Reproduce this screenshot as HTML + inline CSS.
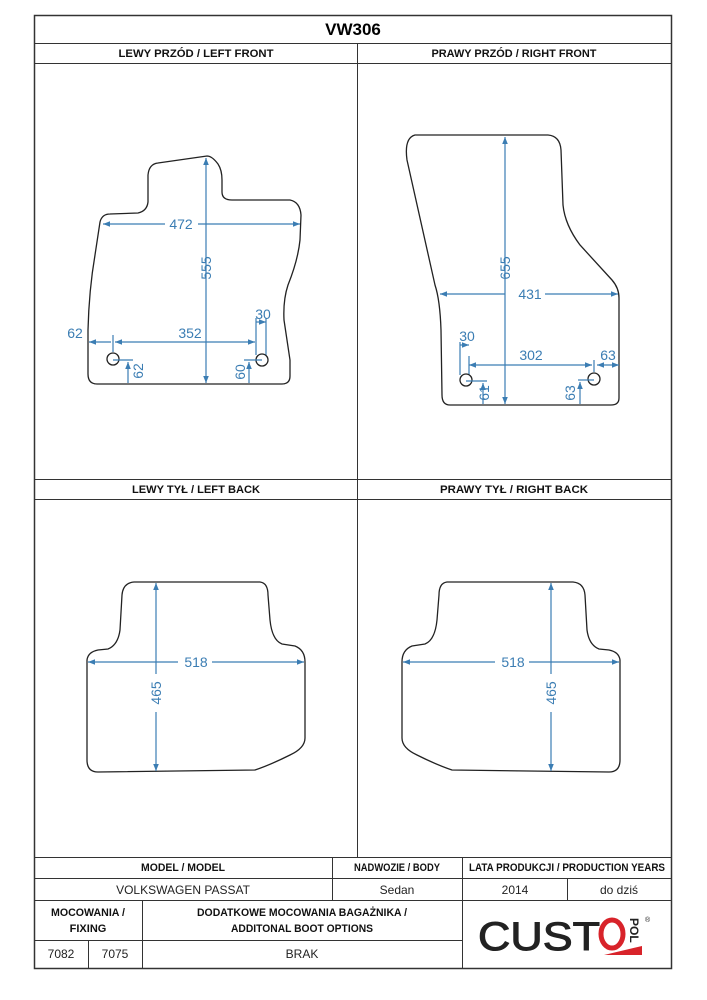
<!DOCTYPE html>
<html><head><meta charset="utf-8"><style>
html,body{margin:0;padding:0;background:#fff;width:707px;height:1000px;overflow:hidden}
svg{display:block}
.h{font-family:"Liberation Sans",sans-serif;font-weight:bold;font-size:11px;fill:#111}
.t{font-family:"Liberation Sans",sans-serif;font-size:12px;fill:#222}
.d{font-family:"Liberation Sans",sans-serif;font-size:14px;fill:#3b7db3}
.m{fill:none;stroke:#222;stroke-width:1.3}
.b{stroke:#3b7db3;stroke-width:1.2;fill:none}
</style></head><body>
<svg width="707" height="1000" viewBox="0 0 707 1000">
<defs>
<marker id="a" viewBox="0 0 10 10" refX="10" refY="5" markerWidth="7" markerHeight="7" orient="auto-start-reverse" markerUnits="userSpaceOnUse"><path d="M0,1 L10,5 L0,9z" fill="#3b7db3"/></marker>
</defs>
<g stroke="#333" stroke-width="1" fill="none">
<rect x="34.5" y="15.5" width="637" height="953" stroke-width="1.5"/>
<line x1="34" y1="43.5" x2="671" y2="43.5"/>
<line x1="34" y1="63.5" x2="671" y2="63.5"/>
<line x1="34" y1="479.5" x2="671" y2="479.5"/>
<line x1="34" y1="499.5" x2="671" y2="499.5"/>
<line x1="357.5" y1="43" x2="357.5" y2="857"/>
<line x1="34" y1="857.5" x2="671" y2="857.5"/>
<line x1="34" y1="878.5" x2="671" y2="878.5"/>
<line x1="34" y1="900.5" x2="671" y2="900.5"/>
<line x1="34" y1="940.5" x2="462" y2="940.5"/>
<line x1="332.5" y1="857" x2="332.5" y2="900"/>
<line x1="462.5" y1="857" x2="462.5" y2="968"/>
<line x1="567.5" y1="878" x2="567.5" y2="900"/>
<line x1="142.5" y1="900" x2="142.5" y2="968"/>
<line x1="88.5" y1="940" x2="88.5" y2="968"/>
</g>
<text x="353" y="35" text-anchor="middle" style="font-family:'Liberation Sans',sans-serif;font-weight:bold;font-size:17px">VW306</text>
<text class="h" x="196" y="57" text-anchor="middle" textLength="155" lengthAdjust="spacingAndGlyphs">LEWY PRZÓD / LEFT FRONT</text>
<text class="h" x="514" y="57" text-anchor="middle" textLength="165" lengthAdjust="spacingAndGlyphs">PRAWY PRZÓD / RIGHT FRONT</text>
<text class="h" x="196" y="493" text-anchor="middle" textLength="128" lengthAdjust="spacingAndGlyphs">LEWY TYŁ / LEFT BACK</text>
<text class="h" x="514" y="493" text-anchor="middle" textLength="148" lengthAdjust="spacingAndGlyphs">PRAWY TYŁ / RIGHT BACK</text>
<text class="h" x="183" y="871" text-anchor="middle" textLength="84" lengthAdjust="spacingAndGlyphs">MODEL / MODEL</text>
<text class="h" x="397" y="871" text-anchor="middle" textLength="86" lengthAdjust="spacingAndGlyphs">NADWOZIE / BODY</text>
<text class="h" x="567" y="871" text-anchor="middle" textLength="196" lengthAdjust="spacingAndGlyphs">LATA PRODUKCJI / PRODUCTION YEARS</text>
<text class="t" x="183" y="894" text-anchor="middle">VOLKSWAGEN PASSAT</text>
<text class="t" x="397" y="894" text-anchor="middle">Sedan</text>
<text class="t" x="515" y="894" text-anchor="middle">2014</text>
<text class="t" x="619" y="894" text-anchor="middle">do dziś</text>
<text class="h" x="88" y="916" text-anchor="middle" textLength="74" lengthAdjust="spacingAndGlyphs">MOCOWANIA /</text>
<text class="h" x="88" y="932" text-anchor="middle">FIXING</text>
<text class="h" x="302" y="916" text-anchor="middle" textLength="210" lengthAdjust="spacingAndGlyphs">DODATKOWE MOCOWANIA BAGAŻNIKA /</text>
<text class="h" x="302" y="932" text-anchor="middle" textLength="142" lengthAdjust="spacingAndGlyphs">ADDITONAL BOOT OPTIONS</text>
<text class="t" x="61" y="958" text-anchor="middle">7082</text>
<text class="t" x="115" y="958" text-anchor="middle">7075</text>
<text class="t" x="302" y="958" text-anchor="middle">BRAK</text>
<!-- logo -->
<text x="478" y="950" textLength="122" lengthAdjust="spacingAndGlyphs" style="font-family:'Liberation Sans',sans-serif;font-size:40px;fill:#222;stroke:#222;stroke-width:1">CUST</text>
<ellipse cx="612" cy="934" rx="11" ry="14" fill="none" stroke="#d8232a" stroke-width="5"/>
<path d="M604 955 L642 946 L642 955z" fill="#d8232a"/>
<text x="630" y="918" transform="rotate(90 630 918)" style="font-family:'Liberation Sans',sans-serif;font-weight:bold;font-size:12px;fill:#222">POL</text>
<text x="645" y="922" style="font-family:'Liberation Sans',sans-serif;font-size:7px;fill:#222">®</text>

<!-- left front -->
<path class="m" d="M207,156 Q212,156 218,164 Q222,170 222,180 L222,192 Q222,200 232,200 L290,200 Q300,202 301,215 L300,240 Q298,260 288,285 Q283,300 284,320 L290,360 L290,376 Q290,384 282,384 L97,384 Q88,384 88,374 L88,330 Q89,290 95,255 L100,222 Q102,214 110,214 L138,213 Q147,211 148,202 L148,175 Q149,164 158,163 Z"/>
<line class="b" x1="103" y1="224" x2="165" y2="224" marker-start="url(#a)"/>
<line class="b" x1="198" y1="224" x2="300" y2="224" marker-end="url(#a)"/>
<text class="d" x="181" y="229" text-anchor="middle">472</text>
<line class="b" x1="206" y1="158" x2="206" y2="383" marker-start="url(#a)" marker-end="url(#a)"/>
<text class="d" transform="translate(211,268) rotate(-90)" text-anchor="middle">555</text>
<line class="b" x1="89" y1="342" x2="111" y2="342" marker-start="url(#a)"/>
<line class="b" x1="115" y1="342" x2="255" y2="342" marker-start="url(#a)" marker-end="url(#a)"/>
<line class="b" x1="113" y1="335" x2="113" y2="352"/>
<line class="b" x1="256" y1="318" x2="256" y2="355"/>
<line class="b" x1="266" y1="318" x2="266" y2="355"/>
<line class="b" x1="256" y1="322" x2="266" y2="322" marker-end="url(#a)"/>
<text class="d" x="75" y="338" text-anchor="middle">62</text>
<text class="d" x="190" y="338" text-anchor="middle">352</text>
<text class="d" x="263" y="319" text-anchor="middle">30</text>
<circle cx="113" cy="359" r="6" class="m"/>
<circle cx="262" cy="360" r="6" class="m"/>
<line class="b" x1="113" y1="360" x2="133" y2="360"/>
<line class="b" x1="128" y1="362" x2="128" y2="383" marker-start="url(#a)"/>
<text class="d" transform="translate(143,371) rotate(-90)" text-anchor="middle">62</text>
<line class="b" x1="244" y1="360" x2="262" y2="360"/>
<line class="b" x1="249" y1="362" x2="249" y2="383" marker-start="url(#a)"/>
<text class="d" transform="translate(245,372) rotate(-90)" text-anchor="middle">60</text>

<!-- right front -->
<path class="m" d="M415,135 L548,135 Q560,136 561,150 L563,205 Q565,225 580,245 L612,280 Q619,288 619,298 L619,398 Q619,405 611,405 L450,405 Q442,405 442,395 L441,330 Q440,300 435,285 L407,160 Q404,138 415,135 Z"/>
<line class="b" x1="505" y1="137" x2="505" y2="404" marker-start="url(#a)" marker-end="url(#a)"/>
<text class="d" transform="translate(510,268) rotate(-90)" text-anchor="middle">655</text>
<line class="b" x1="440" y1="294" x2="505" y2="294" marker-start="url(#a)"/>
<line class="b" x1="545" y1="294" x2="618" y2="294" marker-end="url(#a)"/>
<text class="d" x="530" y="299" text-anchor="middle">431</text>
<line class="b" x1="460" y1="342" x2="460" y2="375"/>
<line class="b" x1="469" y1="356" x2="469" y2="375"/>
<line class="b" x1="460" y1="345" x2="469" y2="345" marker-end="url(#a)"/>
<text class="d" x="467" y="341" text-anchor="middle">30</text>
<line class="b" x1="469" y1="365" x2="592" y2="365" marker-start="url(#a)" marker-end="url(#a)"/>
<line class="b" x1="594" y1="360" x2="594" y2="372"/>
<line class="b" x1="597" y1="365" x2="619" y2="365" marker-start="url(#a)" marker-end="url(#a)"/>
<text class="d" x="531" y="360" text-anchor="middle">302</text>
<text class="d" x="608" y="360" text-anchor="middle">63</text>
<circle cx="466" cy="380" r="6" class="m"/>
<circle cx="594" cy="379" r="6" class="m"/>
<line class="b" x1="466" y1="381" x2="487" y2="381"/>
<line class="b" x1="483" y1="383" x2="483" y2="404" marker-start="url(#a)"/>
<text class="d" transform="translate(489,393) rotate(-90)" text-anchor="middle">61</text>
<line class="b" x1="578" y1="380" x2="594" y2="380"/>
<line class="b" x1="580" y1="382" x2="580" y2="404" marker-start="url(#a)"/>
<text class="d" transform="translate(575,393) rotate(-90)" text-anchor="middle">63</text>

<!-- left back -->
<g id="lb">
<path class="m" d="M134,582 L260,582 Q268,583 268,595 L270,620 Q272,640 282,644 L295,646 Q305,650 305,662 L305,738 Q305,748 290,755 Q270,765 255,770 L98,772 Q87,772 87,760 L87,660 Q88,652 98,650 L108,649 Q118,645 120,630 L122,595 Q123,583 134,582 Z"/>
<line class="b" x1="88" y1="662" x2="178" y2="662" marker-start="url(#a)"/>
<line class="b" x1="212" y1="662" x2="304" y2="662" marker-end="url(#a)"/>
<line class="b" x1="156" y1="583" x2="156" y2="674" marker-start="url(#a)"/>
<line class="b" x1="156" y1="712" x2="156" y2="771" marker-end="url(#a)"/>
</g>
<text class="d" x="196" y="667" text-anchor="middle">518</text>
<text class="d" transform="translate(161,693) rotate(-90)" text-anchor="middle">465</text>
<use href="#lb" transform="translate(707,0) scale(-1,1)"/>
<text class="d" x="513" y="667" text-anchor="middle">518</text>
<text class="d" transform="translate(556,693) rotate(-90)" text-anchor="middle">465</text>
</svg>
</body></html>
